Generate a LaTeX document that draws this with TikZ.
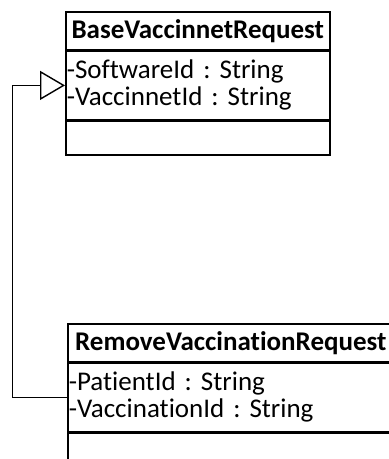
\documentclass[tikz,border=0pt]{standalone}
\usepackage{fontspec}
\setmainfont{Carlito}[Ligatures=NoCommon]
\usetikzlibrary{positioning,arrows.meta}

\begin{document}
\frenchspacing
\begin{tikzpicture}[x=1pt,y=-1pt,
  box/.style={draw, line width=1.6pt, inner sep=0pt, font=\fontsize{27}{27}\selectfont},
  classname/.style={box, font=\fontsize{27}{27}\selectfont\bfseries, minimum height=38pt},
  attrs/.style={box, align=left, inner xsep=1pt, minimum height=68pt},
  ops/.style={box, minimum height=34pt},
  inherit/.style={draw, line width=1pt, -{Triangle[open, length=25pt, width=29pt, line width=1.4pt]}}]
  \useasboundingbox (0,0) rectangle (389,459);
  \clip (0,0) rectangle (389,459);
  % parent class
  \node[classname, minimum width=264pt, anchor=north west] (base) at (65,11) {BaseVaccinnetRequest};
  \node[attrs, text width=262pt, below=0pt of base] (baseattr) {-SoftwareId : String\\-VaccinnetId : String};
  \node[ops, minimum width=264pt, below=0pt of baseattr] (baseops) {};
  % child class
  \node[classname, minimum width=326pt, anchor=north west] (remove) at (67,323) {RemoveVaccinationRequest};
  \node[attrs, text width=324pt, below=0pt of remove] (removeattr) {-PatientId : String\\-VaccinationId : String};
  \node[ops, minimum width=326pt, below=0pt of removeattr] (removeops) {};
  % generalization
  \draw[inherit] (removeattr.west) -- ++(-55pt,0) |- (baseattr.west);
\end{tikzpicture}
\end{document}
